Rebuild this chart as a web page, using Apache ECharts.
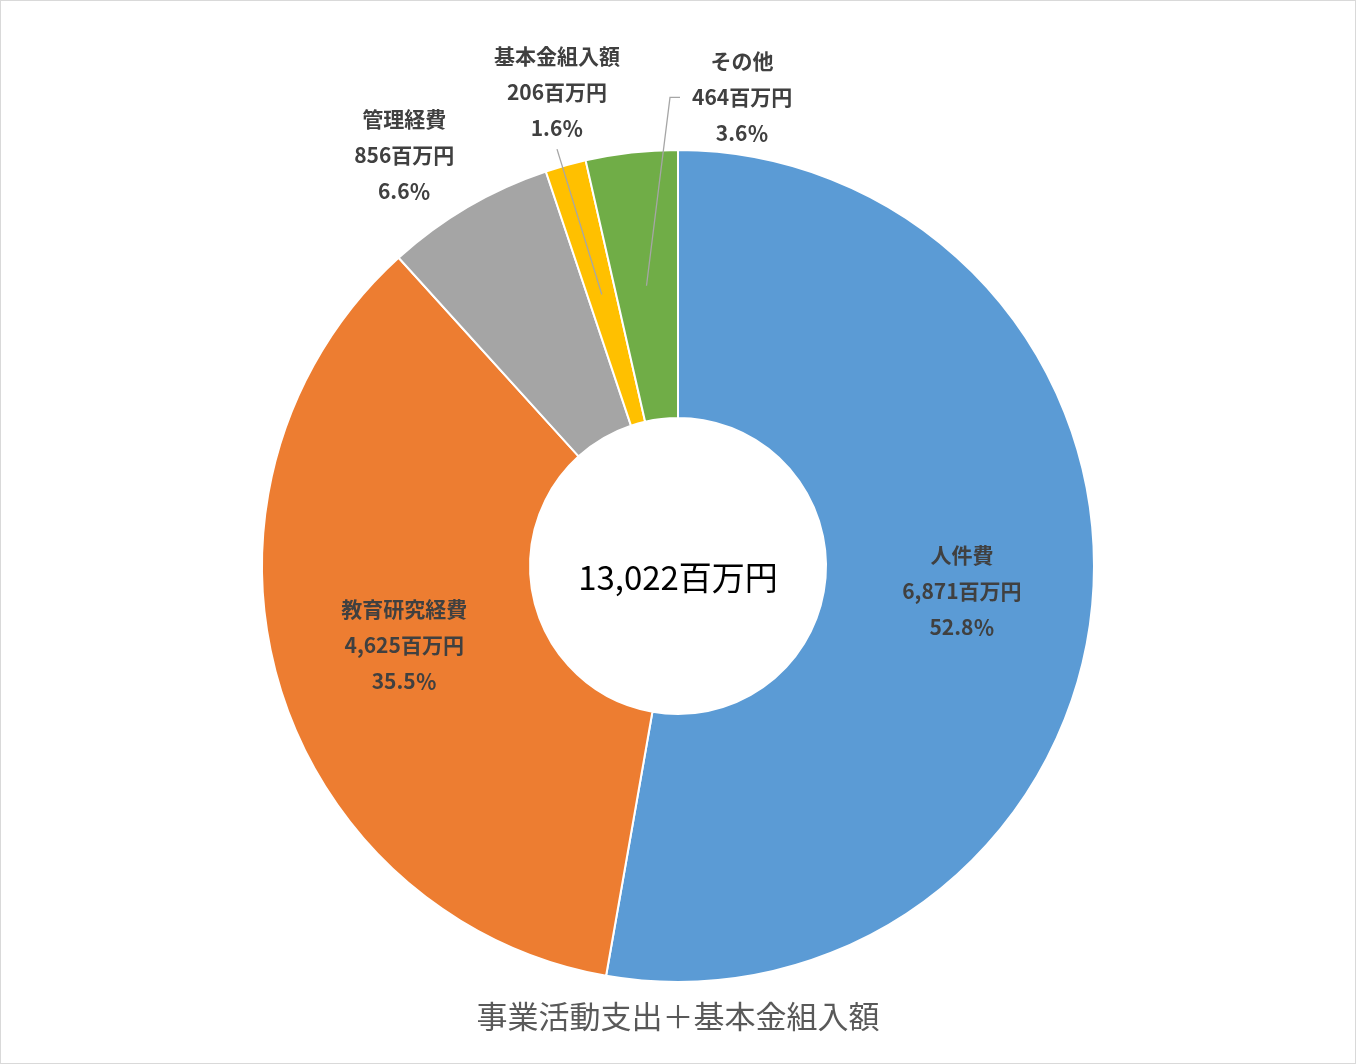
<!DOCTYPE html>
<html>
<head>
<meta charset="utf-8">
<script src="https://cdn.jsdelivr.net/npm/echarts@6/dist/echarts.min.js"></script>
<style>
  html, body { margin: 0; padding: 0; background: #fff; }
  #chart { width: 1356px; height: 1064px; box-sizing: border-box; border: 1px solid #d9d9d9; }
</style>
</head>
<body>
<div id="chart"></div>
<script>
// データ（単位：百万円）
const categories = ['人件費', '教育研究経費', '管理経費', '基本金組入額', 'その他'];
const amounts = [6871, 4625, 856, 206, 464];
const colors = ['#5B9BD5', '#ED7D31', '#A5A5A5', '#FFC000', '#70AD47'];
const unit = '百万円';
const chartTitle = '事業活動支出＋基本金組入額';

const total = amounts.reduce((a, b) => a + b, 0);

// 円の位置と大きさ
const center = [677, 565];
const radius = [148, 416];

// 外側に出すラベルの置き方（中心からの距離と角度のずれ）
const outerLabels = {
  '管理経費': { r: 494, shift: -3.3, vAlign: 'middle', line: 'none' },
  '基本金組入額': { r: 437, shift: -0.4, vAlign: 'bottom', line: 'straight' },
  'その他': { r: 473, shift: 14.2, vAlign: 'middle', line: 'elbow' }
};

// 各扇形の中央角度（真上から時計回り）
const midAngle = [];
let acc = 0;
amounts.forEach(v => { midAngle.push((acc + v / 2) / total * 360); acc += v; });

function polar(r, deg) {
  const a = deg * Math.PI / 180;
  return [center[0] + r * Math.sin(a), center[1] - r * Math.cos(a)];
}

const labelText = p => p.name + '\n' + echarts.format.addCommas(p.value) + unit + '\n' +
  (p.value / total * 100).toFixed(1) + '％';

const labelFont = {
  color: '#404040',
  fontSize: 21,
  fontWeight: 'bold',
  lineHeight: 36,
  fontFamily: '"Noto Sans CJK JP", sans-serif',
  formatter: labelText
};

// 本体：内側ラベルだけ
const mainData = categories.map((name, i) => ({
  name: name,
  value: amounts[i],
  itemStyle: { color: colors[i] },
  label: { show: !outerLabels[name] }
}));

// 上に重ねる透明な円：外側ラベルと引き出し線を扇形の上に描く
const overlayData = categories.map((name, i) => {
  const cfg = outerLabels[name];
  return {
    name: name,
    value: amounts[i],
    label: { show: !!cfg },
    labelLine: { show: !!cfg && cfg.line !== 'none', length: 20, length2: 0 }
  };
});

const chart = echarts.init(document.getElementById('chart'));

const option = {
  animation: false,
  backgroundColor: '#fff',
  textStyle: { fontFamily: '"Noto Sans CJK JP", "Noto Sans", sans-serif' },
  graphic: [
    {
      type: 'text', left: 'center', top: 560,
      style: {
        text: echarts.format.addCommas(total) + unit,
        font: '33px "Noto Sans CJK JP", sans-serif',
        fill: '#000'
      }
    },
    {
      type: 'text', left: 'center', top: 1000,
      style: {
        text: chartTitle,
        font: '31px "Noto Sans CJK JP", sans-serif',
        fill: '#595959'
      }
    }
  ],
  series: [
    {
      type: 'pie',
      center: center,
      radius: radius,
      startAngle: 90,
      clockwise: true,
      avoidLabelOverlap: false,
      emphasis: { disabled: true },
      itemStyle: { borderColor: '#fff', borderWidth: 2 },
      label: Object.assign({ position: 'inside' }, labelFont),
      labelLine: { show: false },
      data: mainData
    },
    {
      type: 'pie',
      z: 3,
      silent: true,
      center: center,
      radius: radius,
      startAngle: 90,
      clockwise: true,
      avoidLabelOverlap: false,
      emphasis: { disabled: true },
      itemStyle: { color: 'rgba(0,0,0,0)', borderWidth: 0 },
      label: Object.assign({ position: 'outside' }, labelFont),
      labelLine: { lineStyle: { color: '#A6A6A6', width: 1.3 } },
      labelLayout: function (p) {
        const i = p.dataIndex;
        const cfg = outerLabels[categories[i]];
        if (!cfg) return {};
        const pos = polar(cfg.r, midAngle[i] + cfg.shift);
        const out = { x: pos[0], y: pos[1], align: 'center', verticalAlign: cfg.vAlign };
        const ringMid = (radius[0] + radius[1]) / 2;
        const start = polar(ringMid, midAngle[i]);
        if (cfg.line === 'straight') {
          out.labelLinePoints = [start, [pos[0], pos[1] + 3], [pos[0], pos[1] + 3]];
        } else if (cfg.line === 'elbow') {
          const left = pos[0] - p.labelRect.width / 2;
          out.labelLinePoints = [start, [left - 22, pos[1]], [left - 12, pos[1]]];
        }
        return out;
      },
      data: overlayData
    }
  ]
};

chart.setOption(option);
</script>
</body>
</html>
